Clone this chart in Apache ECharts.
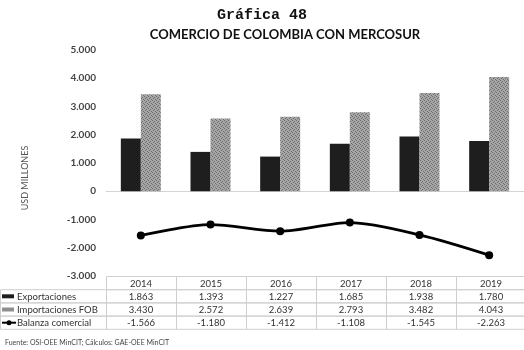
<!DOCTYPE html>
<html>
<head>
<meta charset="utf-8">
<script src="https://cdn.jsdelivr.net/npm/echarts@6/dist/echarts.min.js"></script>
<style>
  html, body { margin: 0; padding: 0; background: #fff; }
  #main { width: 524px; height: 350px; }
</style>
</head>
<body>
<div id="main"></div>
<script>
// datos de la gráfica
var years = ['2014', '2015', '2016', '2017', '2018', '2019'];
var exportaciones = [1863, 1393, 1227, 1685, 1938, 1780];
var importaciones = [3430, 2572, 2639, 2793, 3482, 4043];
var balanza = [-1566, -1180, -1412, -1108, -1545, -2263];
var seriesNames = ['Exportaciones', 'Importaciones FOB', 'Balanza comercial'];

// formato con punto de miles
function fmt(v) {
    var s = String(Math.abs(v)).replace(/\B(?=(\d{3})+(?!\d))/g, '.');
    return (v < 0 ? '-' : '') + s;
}

// textura gris para importaciones
function makePattern() {
    var c = document.createElement('canvas');
    c.width = 4; c.height = 4;
    var ctx = c.getContext('2d');
    ctx.fillStyle = '#a6a6a6';
    ctx.fillRect(0, 0, 4, 4);
    ctx.fillStyle = '#6e6e6e';
    ctx.fillRect(0, 0, 1, 1);
    ctx.fillRect(2, 1, 1, 1);
    ctx.fillRect(1, 2, 1, 1);
    ctx.fillRect(3, 3, 1, 1);
    return { image: c, repeat: 'repeat' };
}
var hatch = makePattern();

var gridLeft = 106, gridTop = 50, colW = 70, gridH = 226;
var tableTop = 276, rowH = 13.2;
var font = 'Lato, "Open Sans", sans-serif';

// tabla de datos debajo del gráfico
var graphics = [];
function cell(x, y, w, h) {
    graphics.push({ type: 'rect', shape: { x: x, y: y, width: w, height: h },
        style: { fill: 'none', stroke: '#cfcfcf', lineWidth: 1 }, silent: true });
}
function txt(x, y, s, align) {
    graphics.push({ type: 'text', x: x, y: y,
        style: { text: s, fill: '#333', font: '9.5px ' + font, textAlign: align || 'center', textVerticalAlign: 'middle' } });
}
years.forEach(function (yr, i) {
    var x = gridLeft + i * colW;
    cell(x + 0.5, tableTop + 0.5, colW, rowH);
    txt(x + colW / 2, tableTop + rowH / 2 + 1, yr);
});
var rows = [exportaciones, importaciones, balanza];
rows.forEach(function (arr, r) {
    var y = tableTop + rowH * (r + 1);
    cell(0.5, y + 0.5, gridLeft, rowH);
    arr.forEach(function (v, i) {
        cell(gridLeft + i * colW + 0.5, y + 0.5, colW, rowH);
        txt(gridLeft + i * colW + colW / 2, y + rowH / 2 + 1, fmt(v));
    });
    txt(17, y + rowH / 2 + 1, seriesNames[r], 'left');
    var my = y + rowH / 2 + 0.5;
    if (r === 0) {
        graphics.push({ type: 'rect', shape: { x: 2, y: my - 2, width: 12, height: 4 }, style: { fill: '#1e1e1e' } });
    } else if (r === 1) {
        graphics.push({ type: 'rect', shape: { x: 2, y: my - 2, width: 12, height: 4 }, style: { fill: '#8e8e8e' } });
    } else {
        graphics.push({ type: 'line', shape: { x1: 2, y1: my, x2: 16, y2: my }, style: { stroke: '#000', lineWidth: 2 } });
        graphics.push({ type: 'circle', shape: { cx: 9, cy: my, r: 2.5 }, style: { fill: '#000' } });
    }
});
// nombre del eje y
graphics.push({ type: 'text', x: 25, y: 178, rotation: Math.PI / 2,
    style: { text: 'USD MILLONES', fill: '#555', font: '9px ' + font, textAlign: 'center', textVerticalAlign: 'middle' } });
// fuente
graphics.push({ type: 'text', x: 5, y: 343,
    style: { text: 'Fuente: OSI-OEE MinCIT; Cálculos: GAE-OEE MinCIT', fill: '#444', font: '7px ' + font, textVerticalAlign: 'middle' } });

var myChart = echarts.init(document.getElementById('main'));
myChart.setOption({
    animation: false,
    title: [{
        text: 'Gráfica 48',
        left: 'center', top: 3,
        textStyle: { fontFamily: '"Liberation Mono", monospace', fontWeight: 'bold', fontSize: 15, color: '#111' }
    }, {
        text: 'COMERCIO DE COLOMBIA CON MERCOSUR',
        left: 280, textAlign: 'center', top: 23,
        textStyle: { fontFamily: font, fontWeight: 'bold', fontSize: 13, color: '#111' }
    }],
    grid: { left: gridLeft, top: gridTop, width: colW * years.length, height: gridH },
    xAxis: {
        type: 'category',
        data: years,
        axisLine: { onZero: true, lineStyle: { color: '#d4d4d4', width: 1 } },
        axisTick: { show: false },
        axisLabel: { show: false }
    },
    yAxis: {
        type: 'value',
        min: -3000, max: 5000, interval: 1000,
        axisLine: { show: false },
        axisTick: { show: false },
        splitLine: { show: false },
        axisLabel: {
            margin: 10,
            formatter: fmt,
            color: '#444', fontFamily: font, fontWeight: 'bold', fontSize: 10
        }
    },
    series: [{
        name: seriesNames[0],
        type: 'bar',
        data: exportaciones,
        barWidth: 20,
        barGap: '0%',
        itemStyle: { color: '#1e1e1e' }
    }, {
        name: seriesNames[1],
        type: 'bar',
        data: importaciones,
        barWidth: 20,
        itemStyle: { color: hatch }
    }, {
        name: seriesNames[2],
        type: 'line',
        data: balanza,
        smooth: 0.3,
        symbol: 'circle',
        symbolSize: 8,
        lineStyle: { color: '#000', width: 2.8 },
        itemStyle: { color: '#000' }
    }],
    graphic: graphics
});
</script>
</body>
</html>
